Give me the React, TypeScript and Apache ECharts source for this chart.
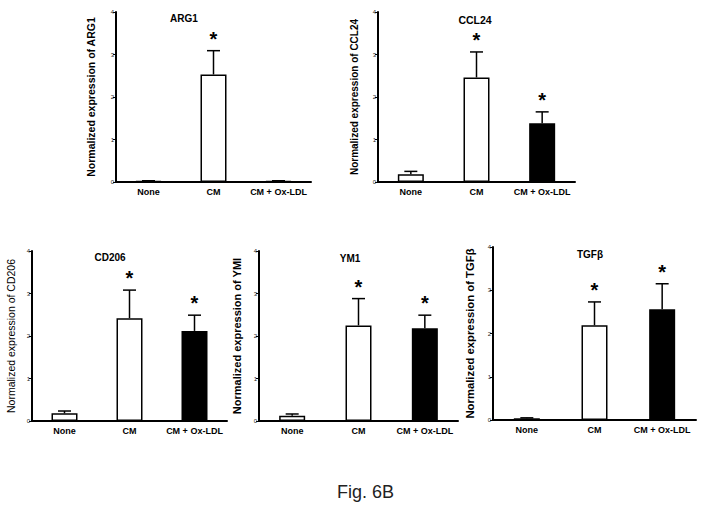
import React, { useEffect, useRef } from "react";
import * as echarts from "echarts";

const categories = ["None", "CM", "CM + Ox-LDL"];
const yTicks = [0, 1, 2, 3, 4];

const arg1Mean = [0.02, 2.53, 0.02];
const arg1Upper = [0.03, 3.09, 0.03];
const arg1Star = [false, true, false];

const ccl24Mean = [0.18, 2.46, 1.38];
const ccl24Upper = [0.25, 3.06, 1.65];
const ccl24Star = [false, true, true];

const cd206Mean = [0.18, 2.42, 2.12];
const cd206Upper = [0.235, 3.08, 2.49];
const cd206Star = [false, true, true];

const ym1Mean = [0.125, 2.25, 2.18];
const ym1Upper = [0.165, 2.88, 2.49];
const ym1Star = [false, true, true];

const tgfbMean = [0.04, 2.19, 2.56];
const tgfbUpper = [0.05, 2.73, 3.15];
const tgfbStar = [false, true, true];

const barFill = ["#ffffff", "#ffffff", "#000000"];

const panels = [
  { title: "ARG1", yName: "Normalized expression of ARG1", mean: arg1Mean, upper: arg1Upper, star: arg1Star },
  { title: "CCL24", yName: "Normalized expression of CCL24", mean: ccl24Mean, upper: ccl24Upper, star: ccl24Star },
  { title: "CD206", yName: "Normalized expression of CD206", mean: cd206Mean, upper: cd206Upper, star: cd206Star },
  { title: "YM1", yName: "Normalized expression of YMI", mean: ym1Mean, upper: ym1Upper, star: ym1Star },
  { title: "TGFβ", yName: "Normalized expression of TGFβ", mean: tgfbMean, upper: tgfbUpper, star: tgfbStar },
];

// layout (pixels)
const layout = [
  { left: 116, top: 12, width: 195, height: 170, titleX: 184, titleY: 18, titleSize: 10, titleWeight: "bold", nameSize: 10.5, nameGap: 20, nameWeight: "bold" },
  { left: 378, top: 12, width: 197, height: 170, titleX: 475, titleY: 20, titleSize: 10.5, titleWeight: "bold", nameSize: 10, nameGap: 19, nameWeight: "bold" },
  { left: 32, top: 251, width: 195, height: 170, titleX: 110, titleY: 257, titleSize: 10, titleWeight: "bold", nameSize: 10.5, nameGap: 16, nameWeight: "normal" },
  { left: 259, top: 251, width: 199, height: 170, titleX: 350, titleY: 258, titleSize: 10, titleWeight: "bold", nameSize: 11, nameGap: 17, nameWeight: "bold" },
  { left: 493, top: 247, width: 203, height: 173, titleX: 590, titleY: 254, titleSize: 10, titleWeight: "bold", nameSize: 11.3, nameGap: 18, nameWeight: "bold" },
];

const FONT = "Liberation Sans, Arial, sans-serif";

export default function App() {
  const ref = useRef<HTMLDivElement>(null);
  useEffect(() => {
    if (!ref.current) return;
    const chart = echarts.init(ref.current, null, { renderer: "svg" });
    const grid: any[] = [];
    const xAxis: any[] = [];
    const yAxis: any[] = [];
    const series: any[] = [];
    const graphic: any[] = [];
    panels.forEach((p, i) => {
      const L = layout[i];
      grid.push({ left: L.left, top: L.top, width: L.width, height: L.height });
      graphic.push({
        type: "text",
        x: L.titleX,
        y: L.titleY,
        style: {
          text: p.title,
          fontFamily: FONT,
          fontSize: L.titleSize,
          fontWeight: L.titleWeight,
          fill: "#000",
          align: "center",
          verticalAlign: "middle",
        },
      });
      xAxis.push({
        type: "category",
        gridIndex: i,
        data: categories,
        axisLine: { lineStyle: { color: "#000", width: 2 } },
        axisTick: { alignWithLabel: true, length: 3, lineStyle: { color: "#000", width: 1 } },
        axisLabel: { interval: 0, fontFamily: FONT, fontSize: 9, fontWeight: "bold", color: "#000", margin: 5 },
        splitLine: { show: false },
      });
      yAxis.push({
        type: "value",
        gridIndex: i,
        min: yTicks[0],
        max: yTicks[yTicks.length - 1],
        interval: 1,
        name: p.yName,
        nameLocation: "middle",
        nameGap: L.nameGap,
        nameTextStyle: { fontFamily: FONT, fontSize: L.nameSize, fontWeight: L.nameWeight, color: "#000" },
        axisLine: { show: true, lineStyle: { color: "#000", width: 2 } },
        axisTick: { show: true, length: 3, lineStyle: { color: "#000", width: 1 } },
        axisLabel: { fontFamily: FONT, fontSize: 6, color: "#222", margin: 2 },
        splitLine: { show: false },
      });
      series.push({
        type: "bar",
        xAxisIndex: i,
        yAxisIndex: i,
        barWidth: 26,
        data: p.mean.map((v, k) => ({
          value: v,
          itemStyle: { color: barFill[k], borderColor: "#000", borderWidth: 1.5 },
        })),
        z: 2,
      });
      series.push({
        type: "custom",
        xAxisIndex: i,
        yAxisIndex: i,
        data: p.mean.map((v, k) => [k, v, p.upper[k], p.star[k] ? 1 : 0]),
        z: 3,
        renderItem: (params: any, api: any) => {
          const idx = api.value(0);
          const base = api.coord([idx, api.value(1)]);
          const top = api.coord([idx, api.value(2)]);
          const children: any[] = [
            { type: "line", shape: { x1: base[0], y1: base[1], x2: top[0], y2: top[1] }, style: { stroke: "#000", lineWidth: 1.5 } },
            { type: "line", shape: { x1: top[0] - 6.5, y1: top[1], x2: top[0] + 6.5, y2: top[1] }, style: { stroke: "#000", lineWidth: 1.5 } },
          ];
          if (api.value(3) === 1) {
            children.push({
              type: "text",
              x: top[0],
              y: top[1] - 12,
              style: {
                text: "*",
                fontFamily: FONT,
                fontSize: 20,
                fontWeight: "bold",
                fill: "#000",
                align: "center",
                verticalAlign: "middle",
              },
            });
          }
          return { type: "group", children };
        },
      });
    });
    graphic.push({
      type: "text",
      left: 337,
      top: 483,
      style: { text: "Fig. 6B", fontFamily: FONT, fontSize: 18, fill: "#222" },
    });
    chart.setOption({
      animation: false,
      backgroundColor: "#ffffff",
      grid,
      xAxis,
      yAxis,
      series,
      graphic,
    });
    return () => chart.dispose();
  }, []);
  return <div ref={ref} style={{ position: "fixed", left: 0, top: 0, width: 704, height: 516 }} />;
}
